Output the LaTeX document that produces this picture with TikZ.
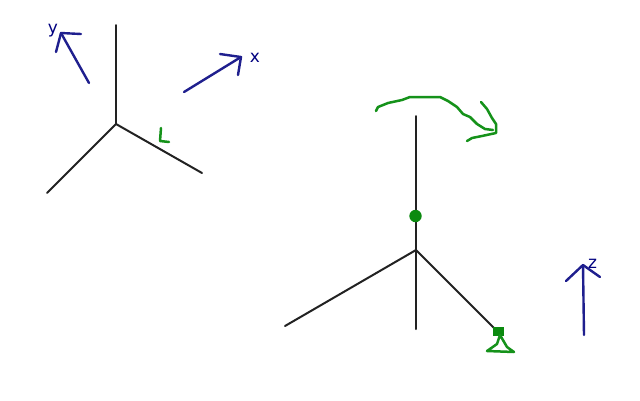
\documentclass[tikz,border=0pt]{standalone}
\usepackage{fontspec}
\setmainfont{DejaVu Sans}
\definecolor{inkgreen}{HTML}{15921A}
\definecolor{hingegreen}{HTML}{0B8A0F}
\definecolor{inkblue}{HTML}{1F1F8E}
\definecolor{inkblack}{HTML}{222222}
\definecolor{labelblue}{HTML}{000080}
\tikzset{
  member/.style={draw=inkblack,line width=2pt,line cap=round},
  sketch/.style={draw=inkgreen,line width=2.5pt,line cap=round,line join=round},
  axisline/.style={draw=inkblue,line width=2.4pt,line cap=round,line join=round},
  axislabel/.style={text=labelblue,font=\fontsize{17}{17}\selectfont,inner sep=0pt}
}
\begin{document}
\begin{tikzpicture}[x=1pt,y=-1pt]
\useasboundingbox (0,0) rectangle (640,400);
\fill[white] (0,0) rectangle (640,400);
% left frame
\coordinate (ac) at (116,124);
\coordinate (at) at (116,25);
\coordinate (al) at (47,193);
\coordinate (ar) at (202,173);
\draw[member] (at) -- (ac);
\draw[member] (al) -- (ac);
\draw[member] (ac) -- (ar);
% right frame
\coordinate (bc) at (416,250);
\coordinate (bt) at (416,116);
\coordinate (bb) at (416,329);
\coordinate (bl) at (285,326);
\coordinate (br) at (497,331);
\draw[member] (bt) -- (bb);
\draw[member] (bl) -- (bc);
\draw[member] (bc) -- (br);
% right-angle mark
\draw[sketch] (161,128) -- (160,141) -- (169,142);
% moment
\draw[sketch] (376,111) -- (378,107) -- (388,103) -- (402,100) -- (410,97) -- (440,97) -- (448,101) -- (457,107) -- (463,114) -- (470,117) -- (477,124) -- (485,129) -- (493,130);
\draw[sketch] (481,102) -- (487,109) -- (492,118) -- (496,124) -- (496,133) -- (482,136) -- (472,138) -- (467,141);
% hinge
\fill[hingegreen] (415.5,216) circle[radius=6.2];
% support
\fill[hingegreen] (493,326.5) rectangle (503.5,336);
\draw[sketch] (500,335) -- (497,344) -- (487,351) -- (514,352) -- (507,347) -- (500,335);
% axis arrows
\coordinate (yt) at (61,33);
\coordinate (yo) at (89,83);
\draw[axisline] (yo) -- (yt);
\draw[axisline] (81,34) -- (yt) -- (56,52);
\coordinate (xt) at (241,57);
\coordinate (xo) at (184,92);
\draw[axisline] (xo) -- (xt);
\draw[axisline] (220,54) -- (xt) -- (238,75);
\coordinate (zt) at (583,265);
\coordinate (zo) at (584,335);
\draw[axisline] (zo) -- (zt);
\draw[axisline] (566,281) -- (zt) -- (600,277);
% labels
\node[axislabel] (ylabel) at (53,31) {y};
\node[axislabel] (xlabel) at (255,58) {x};
\node[axislabel] (zlabel) at (592.5,264) {z};
\end{tikzpicture}
\end{document}
